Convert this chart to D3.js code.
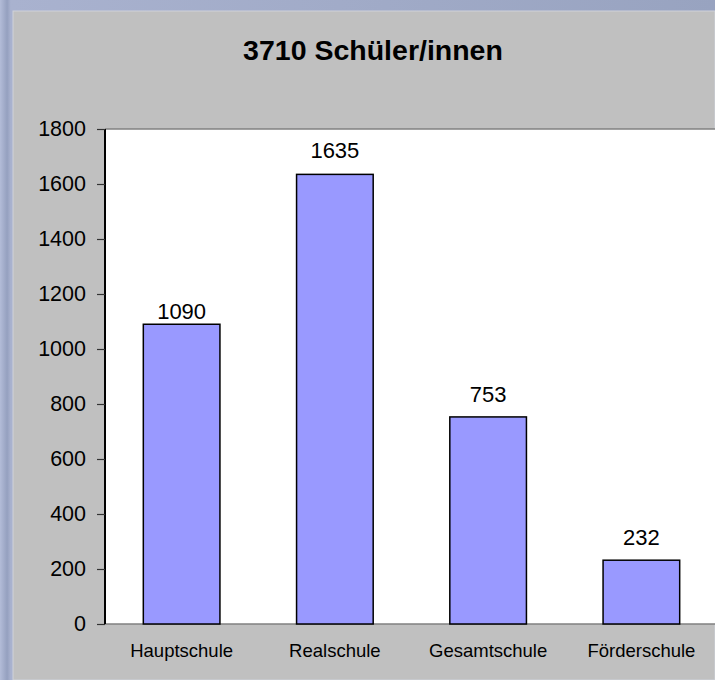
<!DOCTYPE html>
<html>
<head>
<meta charset="utf-8">
<script src="https://cdn.jsdelivr.net/npm/d3@7"></script>
<style>
  body { margin: 0; background: #a3adca; }
  svg { display: block; font-family: "Liberation Sans", Arial, Helvetica, sans-serif; }
</style>
</head>
<body>
<svg id="svg1" width="715" height="680"></svg>
<script>
// Schüler/innen nach Schulform

var title = "3710 Schüler/innen";
var categories = ["Hauptschule", "Realschule", "Gesamtschule", "Förderschule"];
var values = [1090, 1635, 753, 232];
var yTicks = [0, 200, 400, 600, 800, 1000, 1200, 1400, 1600, 1800];

var W = 715, H = 680;
var plotL = 105, plotR = 718, plotT = 129, plotB = 624;   // plot area (runs past right edge)
var labelGap = [5, 16, 15, 15];                           // space between bar top and its label

var svg = d3.select("#svg1");

// backdrop (bluish texture look) + grey chart panel
var defs = svg.append("defs");
var grad = defs.append("linearGradient")
    .attr("id", "bg")
    .attr("x1", 0).attr("y1", 0).attr("x2", 1).attr("y2", 0);
grad.append("stop").attr("offset", "0").attr("stop-color", "#b3bcd8");
grad.append("stop").attr("offset", "0.01").attr("stop-color", "#95a0bf");
grad.append("stop").attr("offset", "0.015").attr("stop-color", "#a9b2cf");
grad.append("stop").attr("offset", "1").attr("stop-color", "#98a3c0");

svg.append("rect")
    .attr("width", W).attr("height", H)
    .attr("fill", "url(#bg)");

svg.append("rect")
    .attr("x", 13).attr("y", 11)
    .attr("width", W - 13).attr("height", H - 11)
    .attr("fill", "#c0c0c0")
    .attr("stroke", "#cfd2da")
    .attr("stroke-width", 1);

// title
svg.append("text")
    .attr("x", 373).attr("y", 60)
    .attr("text-anchor", "middle")
    .attr("font-size", 28.5)
    .attr("font-weight", "bold")
    .attr("fill", "#000")
    .text(title);

var x = d3.scaleBand()
    .domain(categories)
    .range([plotL, plotR])
    .paddingInner(0.5)
    .paddingOuter(0.25);

var y = d3.scaleLinear()
    .domain([0, 1800])
    .range([plotB, plotT]);

// plot area
svg.append("rect")
    .attr("x", plotL).attr("y", plotT)
    .attr("width", plotR - plotL).attr("height", plotB - plotT)
    .attr("fill", "#ffffff");

svg.append("line")
    .attr("x1", plotL).attr("x2", plotR)
    .attr("y1", plotT).attr("y2", plotT)
    .attr("stroke", "#808080").attr("stroke-width", 1.5);

svg.append("line")
    .attr("x1", plotL).attr("x2", plotR)
    .attr("y1", plotB).attr("y2", plotB)
    .attr("stroke", "#808080").attr("stroke-width", 1.5);

// bars
svg.selectAll("rect.bar")
    .data(values)
    .enter().append("rect")
    .attr("class", "bar")
    .attr("x", function (d, i) { return x(categories[i]); })
    .attr("y", function (d) { return y(d); })
    .attr("width", x.bandwidth())
    .attr("height", function (d) { return plotB - y(d); })
    .attr("fill", "#9999ff")
    .attr("stroke", "#000")
    .attr("stroke-width", 1.5);

// value labels
svg.selectAll("text.val")
    .data(values)
    .enter().append("text")
    .attr("class", "val")
    .attr("x", function (d, i) { return x(categories[i]) + x.bandwidth() / 2; })
    .attr("y", function (d, i) { return y(d) - labelGap[i]; })
    .attr("text-anchor", "middle")
    .attr("font-size", 22)
    .attr("fill", "#000")
    .text(function (d) { return d; });

// y axis
var yAxis = svg.append("g")
    .attr("transform", "translate(" + plotL + ",0)")
    .call(d3.axisLeft(y).tickValues(yTicks).tickSize(8).tickPadding(11).tickFormat(d3.format("d")));

yAxis.select(".domain")
    .attr("stroke", "#000")
    .attr("stroke-width", 2)
    .attr("d", "M0," + plotT + "V" + plotB);
yAxis.selectAll(".tick line").attr("stroke", "#333").attr("stroke-width", 1.2);
yAxis.selectAll(".tick text")
    .attr("font-size", 21.5)
    .attr("font-family", "Liberation Sans, Arial, sans-serif")
    .attr("fill", "#000");

// x axis labels
var xAxis = svg.append("g")
    .attr("transform", "translate(0," + plotB + ")")
    .call(d3.axisBottom(x).tickSize(0).tickPadding(20));

xAxis.select(".domain").remove();
xAxis.selectAll(".tick text")
    .attr("font-size", 18.5)
    .attr("font-family", "Liberation Sans, Arial, sans-serif")
    .attr("fill", "#000");
</script>
</body>
</html>
